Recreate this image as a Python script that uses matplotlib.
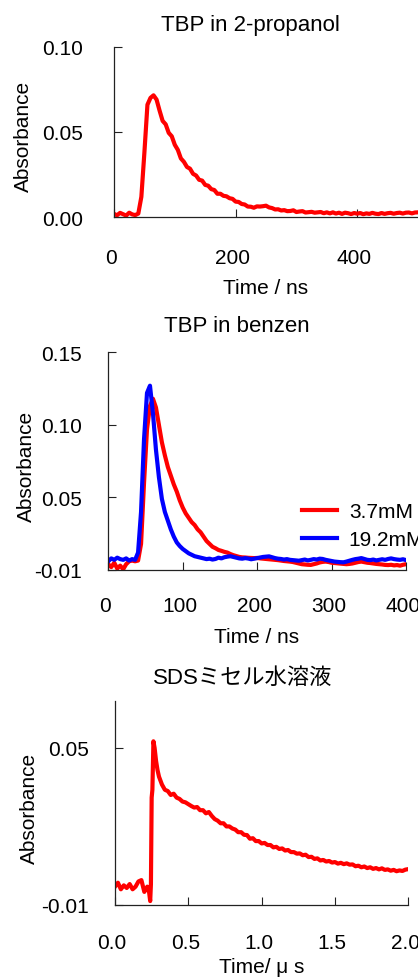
# ============================================
# Transient absorption decays of TBP
# three stacked panels: 2-propanol, benzene, SDS micelle
# ============================================

import numpy as np
import matplotlib
matplotlib.use("Agg")
import matplotlib.pyplot as plt
from matplotlib.transforms import ScaledTranslation

plt.rcParams["font.family"] = ["Liberation Sans", "Noto Sans CJK JP", "DejaVu Sans"]

# --------------------------------------------
# Data
# --------------------------------------------

# Panel 1: TBP in 2-propanol, 0-500 ns every 5 ns
time_propanol = np.arange(0, 505, 5)
abs_propanol = [
    0.002, 0.0012, 0.0026, 0.0018, 0.001, 0.0027, 0.0017, 0.0013, 0.0022, 0.012,
    0.038, 0.066, 0.070, 0.0715, 0.069, 0.0625, 0.0565, 0.0545, 0.0495, 0.0475,
    0.0425, 0.0395, 0.0345, 0.0325, 0.0295, 0.0285, 0.0255, 0.0245, 0.022, 0.0215,
    0.019, 0.0185, 0.0165, 0.016, 0.0138, 0.0138, 0.0126, 0.0123, 0.0112, 0.0108,
    0.0092, 0.009, 0.0078, 0.0075, 0.0063, 0.0062, 0.0056, 0.0064, 0.0063, 0.0065,
    0.0068, 0.0058, 0.0054, 0.0046, 0.0047, 0.004, 0.0042, 0.0036, 0.0037, 0.0041,
    0.0031, 0.0034, 0.0036, 0.0028, 0.003, 0.0032, 0.0027, 0.0029, 0.0031, 0.0024,
    0.0029, 0.0023, 0.0029, 0.0022, 0.0027, 0.002, 0.0027, 0.0024, 0.0019, 0.0025,
    0.0021, 0.0025, 0.0018, 0.0023, 0.002, 0.0026, 0.0021, 0.0019, 0.0025, 0.002,
    0.0024, 0.0026, 0.0021, 0.0025, 0.0027, 0.0022, 0.0027, 0.0028, 0.0023, 0.0028,
    0.0029,
]

# Panel 2: TBP in benzene, two concentrations, 0-400 ns every 4 ns
time_benzen = np.arange(0, 404, 4)
abs_benzen_37 = [
    0.004, 0.002, 0.005, 0.001, 0.003, 0.0005, 0.004, 0.006, 0.0065, 0.006,
    0.0065, 0.018, 0.060, 0.097, 0.113, 0.118, 0.112, 0.100, 0.088, 0.079,
    0.071, 0.065, 0.059, 0.054, 0.048, 0.043, 0.039, 0.036, 0.033, 0.031,
    0.028, 0.026, 0.023, 0.020, 0.018, 0.016, 0.015, 0.0138, 0.0132, 0.0125,
    0.012, 0.011, 0.0102, 0.0096, 0.009, 0.0087, 0.0086, 0.0084, 0.0083, 0.0082,
    0.0083, 0.008, 0.0078, 0.0076, 0.0074, 0.0072, 0.007, 0.0068, 0.0065, 0.0062,
    0.006, 0.0058, 0.0055, 0.005, 0.0045, 0.004, 0.0038, 0.0036, 0.0035, 0.004,
    0.0045, 0.0052, 0.0056, 0.0058, 0.0055, 0.005, 0.0048, 0.0046, 0.0044, 0.0042,
    0.004, 0.0042, 0.0045, 0.005, 0.0055, 0.0058, 0.0054, 0.005, 0.0048, 0.0045,
    0.0042, 0.004, 0.0038, 0.0035, 0.0034, 0.0036, 0.0032, 0.0034, 0.003, 0.0036,
    0.004,
]
abs_benzen_192 = [
    0.006, 0.008, 0.007, 0.0085, 0.0075, 0.007, 0.008, 0.0065, 0.0075, 0.007,
    0.012, 0.040, 0.090, 0.122, 0.127, 0.108, 0.083, 0.064, 0.049, 0.040,
    0.034, 0.028, 0.023, 0.019, 0.0165, 0.0145, 0.013, 0.0115, 0.0105, 0.0095,
    0.009, 0.0085, 0.008, 0.0075, 0.0078, 0.0072, 0.0076, 0.0085, 0.008, 0.0088,
    0.0092, 0.0095, 0.009, 0.0085, 0.008, 0.0078, 0.0082, 0.0079, 0.0074, 0.0078,
    0.0082, 0.0086, 0.009, 0.0092, 0.0094, 0.0088, 0.0082, 0.0078, 0.0076, 0.0072,
    0.0075, 0.007, 0.0068, 0.0066, 0.0064, 0.0068, 0.0072, 0.0066, 0.007, 0.0075,
    0.0072, 0.0078, 0.0076, 0.007, 0.0066, 0.0062, 0.0058, 0.0056, 0.0054, 0.0053,
    0.0058, 0.0064, 0.007, 0.0075, 0.0078, 0.0082, 0.0076, 0.007, 0.0068, 0.0072,
    0.0066, 0.007, 0.0074, 0.007, 0.0076, 0.008, 0.0075, 0.0072, 0.007, 0.0074,
    0.0068,
]

# Panel 3: SDS micelle solution, 0-2 us (denser samples around the rise)
time_sds = np.concatenate([
    np.arange(0.0, 0.23, 0.02),
    [0.23, 0.24, 0.245, 0.25, 0.255, 0.262, 0.27, 0.28, 0.29],
    np.arange(0.30, 2.001, 0.02),
])
abs_sds = [
    -0.003, -0.0015, -0.004, -0.0025, -0.0035, -0.002, -0.004, -0.003, -0.001, -0.0005,
    -0.005, -0.003,
    -0.004, -0.0085, -0.002, 0.031, 0.034, 0.0525, 0.050, 0.045, 0.0415,
    0.039, 0.036, 0.034, 0.0335, 0.032, 0.0325, 0.031, 0.0305, 0.0295, 0.0292,
    0.0285, 0.0278, 0.0272, 0.0274, 0.0262, 0.0262, 0.025, 0.0255, 0.024, 0.0228,
    0.0222, 0.0212, 0.0212, 0.0200, 0.0200, 0.0192, 0.0188, 0.0178, 0.0178, 0.0168,
    0.0167, 0.0153, 0.0155, 0.0144, 0.0144, 0.0135, 0.0137, 0.0129, 0.0129, 0.012,
    0.0122, 0.0114, 0.0116, 0.0108, 0.011, 0.0102, 0.0102, 0.0096, 0.0097, 0.009,
    0.0092, 0.0083, 0.0084, 0.0076, 0.0078, 0.007, 0.0072, 0.0066, 0.0068, 0.0062,
    0.0064, 0.0058, 0.0061, 0.0056, 0.0059, 0.0054, 0.0055, 0.0048, 0.005, 0.0044,
    0.0047, 0.0041, 0.0044, 0.0038, 0.0041, 0.0036, 0.004, 0.0034, 0.0036, 0.0031,
    0.0034, 0.0029, 0.0032, 0.003, 0.0035, 0.0037,
]

# --------------------------------------------
# Figure layout (pixel boxes -> figure fractions)
# --------------------------------------------
W, H = 418, 978
fig = plt.figure(figsize=(W / 100, H / 100), dpi=100)


def box(left, top, right, bottom):
    return [left / W, 1 - bottom / H, (right - left) / W, (bottom - top) / H]


def label(x, y, text, size=15, rotation=0):
    fig.text(x / W, 1 - y / H, text, ha="center", va="center",
             fontsize=size, rotation=rotation)


def style_axes(ax, xpad, ypad):
    for side in ["top", "right"]:
        ax.spines[side].set_visible(False)
    for side in ["left", "bottom"]:
        ax.spines[side].set_color("#222222")
        ax.spines[side].set_linewidth(0.9)
    ax.tick_params(direction="in", length=6, width=0.8, color="#222222",
                   labelsize=15)
    ax.tick_params(axis="x", pad=xpad)
    ax.tick_params(axis="y", pad=ypad)
    # x tick labels sit a few pixels left of their ticks
    shift = ScaledTranslation(-3 / 100, 0, fig.dpi_scale_trans)
    for tick in ax.get_xticklabels():
        tick.set_transform(tick.get_transform() + shift)


LW = 3.0

# --------------------------------------------
# Panel 1: TBP in 2-propanol
# --------------------------------------------
ax1 = fig.add_axes(box(114, 47.7, 418, 218.3))
ax1.plot(time_propanol, abs_propanol, color="red", lw=LW)
ax1.set_xlim(0, 500)
ax1.set_ylim(0, 0.10)
ax1.set_xticks([0, 200, 400])
ax1.set_yticks([0, 0.05, 0.10])
ax1.set_yticklabels(["0.00", "0.05", "0.10"])
style_axes(ax1, 22, 22)
label(250, 25, "TBP in 2-propanol", 16)
label(23, 136, "Absorbance", 15, 90)
label(266, 289, "Time / ns", 15)

# --------------------------------------------
# Panel 2: TBP in benzene
# --------------------------------------------
ax2 = fig.add_axes(box(108.3, 353.3, 406, 571))
ax2.plot(time_benzen, abs_benzen_37, color="red", lw=LW, label="3.7mM")
ax2.plot(time_benzen, abs_benzen_192, color="blue", lw=LW, label="19.2mM")
ax2.set_xlim(0, 400)
ax2.set_ylim(0, 0.15)
ax2.set_xticks([0, 100, 200, 300, 400])
ax2.set_yticks([0, 0.05, 0.10, 0.15])
ax2.set_yticklabels(["-0.01", "0.05", "0.10", "0.15"])
style_axes(ax2, 19, 19)
ax2.legend(loc="upper left", bbox_to_anchor=(302 / W, 1 - 503 / H),
           bbox_transform=fig.transFigure, frameon=False, fontsize=15,
           handlelength=1.7, handletextpad=0.55, labelspacing=0.45,
           borderpad=0, borderaxespad=0)
label(237, 327, "TBP in benzen", 16)
label(26, 466, "Absorbance", 15, 90)
label(257, 638, "Time / ns", 15)

# --------------------------------------------
# Panel 3: SDS micelle solution
# --------------------------------------------
ax3 = fig.add_axes(box(115, 701.7, 408.3, 906))
ax3.plot(time_sds, abs_sds, color="red", lw=LW)
ax3.set_xlim(0, 2.0)
ax3.set_ylim(-0.01, 0.068)
ax3.set_xticks([0, 0.5, 1.0, 1.5, 2.0])
ax3.set_xticklabels(["0.0", "0.5", "1.0", "1.5", "2.0"])
ax3.set_yticks([-0.01, 0.05])
ax3.set_yticklabels(["-0.01", "0.05"])
style_axes(ax3, 20, 19)
label(243, 678, "SDSミセル水溶液", 16)
label(29, 808, "Absorbance", 15, 90)
label(262, 968, "Time/ μ s", 15)

plt.savefig("out.png", dpi=100)
print("Figure saved to out.png")
